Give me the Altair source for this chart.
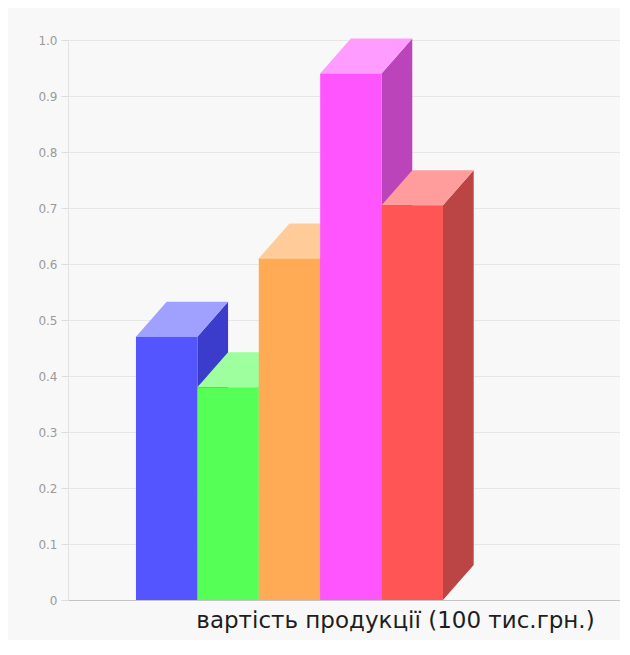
import altair as alt
import pandas as pd

# Data
categories = ["1", "2", "3", "4", "5"]
values = [0.47, 0.38, 0.61, 0.94, 0.705]
front_colors = ["#5555ff", "#55ff55", "#ffaa55", "#ff55ff", "#ff5555"]
top_colors = ["#9fa0ff", "#9dff9d", "#ffcc99", "#ff9cff", "#ff9c9c"]
side_colors = ["#3c3ccc", "#3cc03c", "#c08040", "#bb44bb", "#bb4444"]
y_ticks = [0, 0.1, 0.2, 0.3, 0.4, 0.5, 0.6, 0.7, 0.8, 0.9, 1.0]
x_title = "вартість продукції (100 тис.грн.)"

# layout constants (units of the x scale / y scale)
BAR_START = 1.107
DX = 0.5
DY = 0.0625
X_MAX = 8.99

front_rows, top_rows, side_rows = [], [], []
for i, (c, v) in enumerate(zip(categories, values)):
    x0 = BAR_START + i
    x1 = x0 + 1
    front_rows.append({"cat": c, "x": x0, "x2": x1, "y": 0.0, "y2": v, "col": front_colors[i]})
    side_rows.append({"cat": c, "x": x1, "y": 0.0, "y2": v, "col": side_colors[i]})
    side_rows.append({"cat": c, "x": x1 + DX, "y": DY, "y2": v + DY, "col": side_colors[i]})
    top_rows.append({"cat": c, "y": v, "x": x0, "x2": x1, "col": top_colors[i]})
    top_rows.append({"cat": c, "y": v + DY, "x": x0 + DX, "x2": x1 + DX, "col": top_colors[i]})

front_df = pd.DataFrame(front_rows)
side_df = pd.DataFrame(side_rows)
top_df = pd.DataFrame(top_rows)

xscale = alt.Scale(domain=[0, X_MAX], nice=False, zero=False)
yscale = alt.Scale(domain=[0, 1], nice=False)

x_axis = alt.Axis(
    title=x_title, labels=False, ticks=False, grid=False,
    domain=True, domainColor="#c4c4c4", domainWidth=1,
    titleFont="DejaVu Sans", titleFontSize=23, titleFontWeight="normal",
    titleColor="#1e1e1e", titleX=327, titleY=27, titleAlign="center",
    titleBaseline="alphabetic",
)
y_axis = alt.Axis(
    title=None, values=y_ticks, grid=True, gridColor="#e6e6e6",
    domain=True, domainColor="#e2e2e2", tickColor="#dddddd", tickSize=7,
    labelFont="DejaVu Sans", labelFontSize=12, labelColor="#9a9a9a",
    labelPadding=4,
    labelExpr="datum.value == 0 ? '0' : format(datum.value, '.1f')",
)

side = alt.Chart(side_df).mark_area(orient="vertical").encode(
    x=alt.X("x:Q", scale=xscale, axis=x_axis),
    y=alt.Y("y:Q", scale=yscale, axis=y_axis, stack=None),
    y2="y2:Q",
    color=alt.Color("col:N", scale=None),
)

top = alt.Chart(top_df).mark_area(orient="horizontal").encode(
    y=alt.Y("y:Q", scale=yscale, axis=y_axis),
    x=alt.X("x:Q", scale=xscale, axis=x_axis, stack=None),
    x2="x2:Q",
    color=alt.Color("col:N", scale=None),
)

front = alt.Chart(front_df).mark_rect().encode(
    x=alt.X("x:Q", scale=xscale, axis=x_axis),
    x2="x2:Q",
    y=alt.Y("y:Q", scale=yscale, axis=y_axis),
    y2="y2:Q",
    color=alt.Color("col:N", scale=None),
)

chart = alt.layer(side, top, front).properties(
    width=552, height=560,
    autosize=alt.AutoSizeParams(type="none"),
    padding={"left": 60, "top": 32, "right": 0, "bottom": 40},
    background="#f8f8f8",
).configure_view(stroke=None)

chart.save("out.html", embed_options={"renderer": "svg", "actions": False})
